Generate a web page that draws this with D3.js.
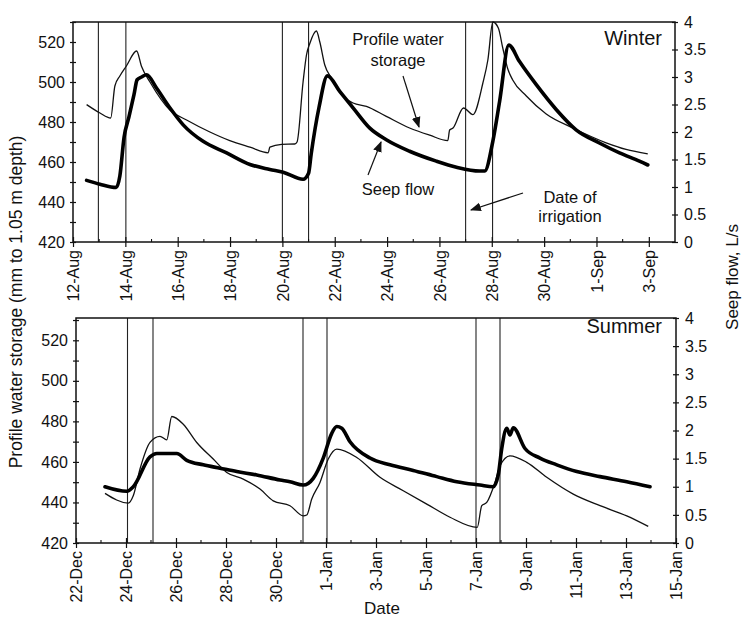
<!DOCTYPE html>
<html>
<head>
<meta charset="utf-8">
<script src="https://cdn.jsdelivr.net/npm/d3@7"></script>
<style>
  body { margin: 0; background: #fff; }
  svg text { font-family: "Liberation Sans", Arial, sans-serif; fill: #111; }
</style>
</head>
<body>
<div id="chart"></div>
<script>
// ---- data (days counted from the first date of each panel) ----
var winterTickLabels = ['12-Aug','14-Aug','16-Aug','18-Aug','20-Aug','22-Aug','24-Aug','26-Aug','28-Aug','30-Aug','1-Sep','3-Sep'];
var summerTickLabels = ['22-Dec','24-Dec','26-Dec','28-Dec','30-Dec','1-Jan','3-Jan','5-Jan','7-Jan','9-Jan','11-Jan','13-Jan','15-Jan'];

var winterIrrigation = [0.97, 2.02, 8.0, 9.0, 15.0, 16.03];
var summerIrrigation = [2.06, 3.08, 9.08, 10.04, 16.0, 16.96];

var winterStorageDays = [0.52,1.03,1.44,1.6,1.79,2.04,2.43,2.62,2.94,3.70,4.34,5.23,5.99,6.76,7.46,7.52,7.97,8.47,8.56,8.79,
  8.92,9.05,9.30,9.43,9.62,9.87,10.32,10.7,11.21,11.97,12.86,13.63,14.32,14.39,14.52,14.92,15.28,15.66,15.85,16.04,
  16.25,16.42,16.6,16.8,17.32,18.08,19.1,20.37,21.13,21.96];
var winterStorage = [488.7,484.5,482,498,503,508,515.5,507.7,500,486,481,475,470.7,467.4,464.6,467.4,468.8,469,470,500,
  513.5,519.4,525.5,520,508.5,502,492.8,489.5,487.8,482.8,477,473.4,470.7,476,477,487,483.7,499.5,511,530,
  527,517,507,501,493,484,477,469.6,466.3,464.1];

var winterSeepDays = [0.52,1.03,1.65,1.79,1.95,2.14,2.33,2.45,2.62,2.81,3.19,3.70,4.21,4.97,5.87,6.76,7.52,8.03,8.79,9.0,
  9.1,9.4,9.72,10.19,10.7,11.34,11.97,12.86,13.88,14.65,15.53,15.73,16.04,16.3,16.65,17.06,17.7,18.46,19.22,20.11,
  20.88,21.64,21.96];
var winterSeep = [1.12,1.05,0.99,1.2,1.9,2.28,2.68,2.95,3.0,3.04,2.8,2.44,2.13,1.83,1.62,1.41,1.32,1.27,1.14,1.25,
  1.6,2.45,3.02,2.74,2.44,2.07,1.86,1.65,1.47,1.36,1.29,1.29,1.83,2.56,3.58,3.28,2.86,2.41,2.04,1.8,
  1.62,1.47,1.4];

var summerStorageDays = [1.16,2.09,2.29,2.56,2.96,3.36,3.63,3.83,4.29,4.83,5.49,6.03,6.69,7.36,7.89,8.56,9.09,9.23,9.43,9.76,
  10.09,10.43,11.23,12.16,13.09,14.03,14.96,16.05,16.23,16.43,16.76,16.96,17.36,18.03,18.83,19.89,20.96,22.03,22.89];
var summerStorage = [444.5,439.7,443.3,456.5,469.6,472.6,470.9,482.4,478.6,469.6,461.4,454.8,451.5,446.6,440.8,438.4,433.4,433.8,441.7,449.9,
  461.4,466.3,462.2,452.4,445.8,439.2,432.7,427.7,438.4,440,449.9,458.1,463,459.8,452.4,444.1,438.4,433.4,428.2];

var summerSeepDays = [1.16,2.03,2.29,2.96,3.23,4.03,4.43,5.09,5.76,6.43,7.23,8.16,8.56,9.09,9.49,9.89,10.23,10.43,10.63,10.96,
  11.76,12.56,13.49,14.43,15.23,16.16,16.69,16.89,17.03,17.23,17.36,17.49,17.96,18.56,19.23,20.03,20.96,22.03,22.96];
var summerSeep = [1.0,0.92,1.0,1.53,1.59,1.59,1.47,1.39,1.33,1.27,1.21,1.12,1.09,1.03,1.15,1.51,1.95,2.07,2.04,1.8,
  1.51,1.39,1.29,1.18,1.09,1.03,1.0,1.21,1.68,2.04,1.92,2.05,1.68,1.51,1.39,1.27,1.18,1.09,1.0];

var storageTicks = d3.range(420, 531, 10);
var seepTicks = d3.range(0, 4.01, 0.5);

var svg = d3.select('#chart').append('svg')
  .attr('width', 742)
  .attr('height', 622);

svg.append('defs').append('marker')
  .attr('id', 'arrow')
  .attr('viewBox', '0 0 10 10')
  .attr('refX', 9).attr('refY', 5)
  .attr('markerWidth', 11).attr('markerHeight', 11)
  .attr('markerUnits', 'userSpaceOnUse')
  .attr('orient', 'auto')
  .append('path').attr('d', 'M0,1 L10,5 L0,9 Z').attr('fill', '#111');

var dayMs = 864e5;

function drawPanel(p) {
  var g = svg.append('g');
  var toDate = function(d) { return new Date(p.start.getTime() + d * dayMs); };

  var x = d3.scaleTime()
    .domain([p.start, toDate(p.days)])
    .range([p.x0, p.x1]);
  var yL = d3.scaleLinear().domain([420, p.leftMax]).range([p.y1, p.y0]);
  var yR = d3.scaleLinear().domain([0, 4]).range([p.y1, p.y0]);

  // dates of irrigation
  g.selectAll('line.irr').data(p.irrigation)
    .enter().append('line')
    .attr('x1', function(d) { return x(toDate(d)); })
    .attr('x2', function(d) { return x(toDate(d)); })
    .attr('y1', p.y0)
    .attr('y2', p.y1)
    .attr('stroke', '#222')
    .attr('stroke-width', 1.1);

  // profile water storage (thin)
  var storageLine = d3.line()
    .curve(d3.curveMonotoneX)
    .x(function(d, i) { return x(toDate(p.storageDays[i])); })
    .y(function(d) { return yL(d); });
  g.append('path')
    .attr('d', storageLine(p.storage))
    .attr('fill', 'none')
    .attr('stroke', '#111')
    .attr('stroke-width', 1.3)
    .attr('stroke-linejoin', 'round');

  // seep flow (thick)
  var seepLine = d3.line()
    .curve(d3.curveMonotoneX)
    .x(function(d, i) { return x(toDate(p.seepDays[i])); })
    .y(function(d) { return yR(d); });
  g.append('path')
    .attr('d', seepLine(p.seep))
    .attr('fill', 'none')
    .attr('stroke', '#000')
    .attr('stroke-width', 3.6)
    .attr('stroke-linejoin', 'round')
    .attr('stroke-linecap', 'round');

  // frame
  g.append('rect')
    .attr('x', p.x0).attr('y', p.y0)
    .attr('width', p.x1 - p.x0).attr('height', p.y1 - p.y0)
    .attr('fill', 'none')
    .attr('stroke', '#111')
    .attr('stroke-width', 1.5);

  // left axis
  var left = g.append('g')
    .attr('transform', 'translate(' + p.x0 + ',0)')
    .call(d3.axisLeft(yL)
      .tickValues(storageTicks)
      .tickFormat(function(d) { return (d % 20 === 0 && d <= 520) ? d : ''; })
      .tickSize(3).tickPadding(5));
  left.select('.domain').remove();
  left.selectAll('line').attr('x1', 3).attr('stroke', '#111').attr('stroke-width', 1.2);
  left.selectAll('text').style('font-size', '16px');

  // right axis
  var right = g.append('g')
    .attr('transform', 'translate(' + p.x1 + ',0)')
    .call(d3.axisRight(yR)
      .tickValues(seepTicks)
      .tickFormat(d3.format('~g'))
      .tickSize(3).tickPadding(6));
  right.select('.domain').remove();
  right.selectAll('line').attr('x1', -3).attr('stroke', '#111').attr('stroke-width', 1.2);
  right.selectAll('text').style('font-size', '16px');

  // bottom axis, major ticks every 2 days
  var majors = p.tickLabels.map(function(d, i) { return toDate(i * 2); });
  var bottom = g.append('g')
    .attr('transform', 'translate(0,' + p.y1 + ')')
    .call(d3.axisBottom(x)
      .tickValues(majors)
      .tickFormat(function(d, i) { return p.tickLabels[i]; })
      .tickSize(5));
  bottom.select('.domain').remove();
  bottom.selectAll('line').attr('y1', -5).attr('stroke', '#111').attr('stroke-width', 1.2);
  bottom.selectAll('text')
    .style('font-size', '16px')
    .attr('transform', 'rotate(-90)')
    .attr('text-anchor', 'end')
    .attr('x', -8)
    .attr('y', 0)
    .attr('dy', '0.36em');

  // minor daily ticks
  g.selectAll('line.minor').data(d3.range(1, p.days, 2))
    .enter().append('line')
    .attr('x1', function(d) { return x(toDate(d)); })
    .attr('x2', function(d) { return x(toDate(d)); })
    .attr('y1', p.y1)
    .attr('y2', p.y1 - 3)
    .attr('stroke', '#111')
    .attr('stroke-width', 1.1);

  g.append('text')
    .attr('x', 662).attr('y', p.titleY)
    .attr('text-anchor', 'end')
    .style('font-size', '20px')
    .text(p.title);
}

drawPanel({
  start: new Date(1997, 7, 12), days: 23,
  x0: 73, x1: 675, y0: 22, y1: 242, leftMax: 530,
  tickLabels: winterTickLabels, irrigation: winterIrrigation,
  storageDays: winterStorageDays, storage: winterStorage,
  seepDays: winterSeepDays, seep: winterSeep,
  title: 'Winter', titleY: 45
});

drawPanel({
  start: new Date(1997, 11, 22), days: 24,
  x0: 76, x1: 676, y0: 318, y1: 543, leftMax: 531,
  tickLabels: summerTickLabels, irrigation: summerIrrigation,
  storageDays: summerStorageDays, storage: summerStorage,
  seepDays: summerSeepDays, seep: summerSeep,
  title: 'Summer', titleY: 333
});

// annotations
var notes = svg.append('g').style('font-size', '16.5px');
notes.append('text').attr('x', 398).attr('y', 45).attr('text-anchor', 'middle').text('Profile water');
notes.append('text').attr('x', 398).attr('y', 66).attr('text-anchor', 'middle').text('storage');
notes.append('text').attr('x', 398).attr('y', 195).attr('text-anchor', 'middle').text('Seep flow');
notes.append('text').attr('x', 570).attr('y', 203).attr('text-anchor', 'middle').text('Date of');
notes.append('text').attr('x', 570).attr('y', 222).attr('text-anchor', 'middle').text('irrigation');

var arrows = [[403, 76, 419, 127], [368, 175, 381, 142], [523, 193, 471, 210]];
svg.selectAll('line.arrow').data(arrows)
  .enter().append('line')
  .attr('x1', function(d) { return d[0]; })
  .attr('y1', function(d) { return d[1]; })
  .attr('x2', function(d) { return d[2]; })
  .attr('y2', function(d) { return d[3]; })
  .attr('stroke', '#111')
  .attr('stroke-width', 1.2)
  .attr('marker-end', 'url(#arrow)');

// axis titles
svg.append('text')
  .attr('transform', 'translate(22,302) rotate(-90)')
  .attr('text-anchor', 'middle')
  .style('font-size', '17.5px')
  .text('Profile water storage (mm to 1.05 m depth)');

svg.append('text')
  .attr('transform', 'translate(738,277) rotate(-90)')
  .attr('text-anchor', 'middle')
  .style('font-size', '17px')
  .text('Seep flow, L/s');

svg.append('text')
  .attr('x', 382).attr('y', 614)
  .attr('text-anchor', 'middle')
  .style('font-size', '17px')
  .text('Date');
</script>
</body>
</html>
